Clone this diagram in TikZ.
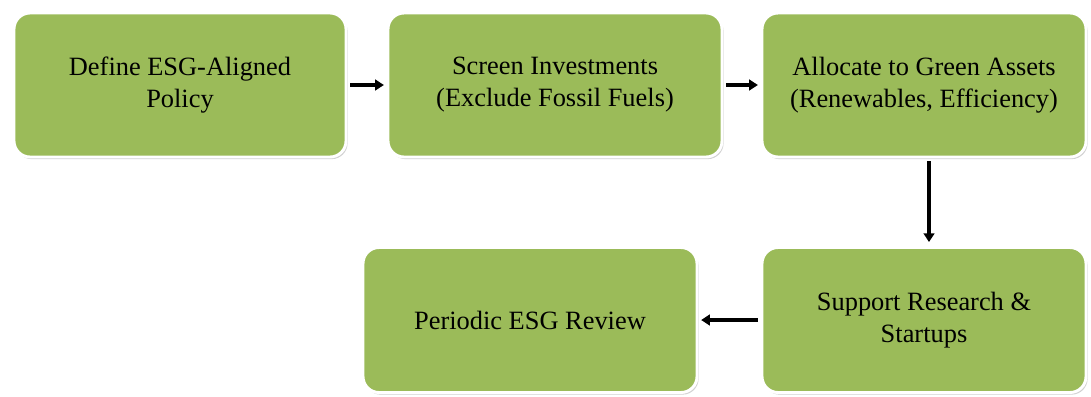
\documentclass[tikz,border=0pt]{standalone}
\usepackage{fontspec}
\setmainfont{Liberation Serif}
\usetikzlibrary{shadows,arrows.meta}
\definecolor{boxgreen}{HTML}{9BBB59}
\tikzset{
  stepbox/.style={draw=white, line width=2.2pt, fill=boxgreen, rounded corners=12pt,
    align=center, font=\fontsize{19.8}{24}\selectfont, text=black,
    drop shadow={shadow xshift=1.2pt, shadow yshift=-1.6pt, opacity=0.3, fill=black!60}},
  flow/.style={-{Triangle[length=6.5pt,width=8pt]}, line width=2.5pt, black}
}
\begin{document}
\begin{tikzpicture}[x=0.75pt,y=-0.75pt]
\useasboundingbox (0,0) rectangle (1091,396);
\node[stepbox, minimum width=249pt, minimum height=108pt] (a) at (180,85) {Define ESG-Aligned\\Policy};
\node[stepbox, minimum width=250.5pt, minimum height=108pt] (b) at (555,85) {Screen Investments\\(Exclude Fossil Fuels)};
\node[stepbox, minimum width=243pt, minimum height=108pt] (c) at (924,85) {Allocate to Green Assets\\(Renewables, Efficiency)};
\node[stepbox, minimum width=243pt, minimum height=108.75pt] (d) at (924,320) {Support Research \&\\Startups};
\node[stepbox, minimum width=250.5pt, minimum height=108.75pt] (e) at (530,320) {Periodic ESG Review};
\draw[flow] (a.east) ++(2pt,0) -- ([xshift=-2pt]b.west);
\draw[flow] (b.east) ++(2pt,0) -- ([xshift=-2pt]c.west);
\draw[flow] ([xshift=3.75pt,yshift=-2pt]c.south) -- ([xshift=3.75pt,yshift=3pt]d.north);
\draw[flow] ([xshift=-2pt]d.west) -- ([xshift=2pt]e.east);
\end{tikzpicture}
\end{document}
